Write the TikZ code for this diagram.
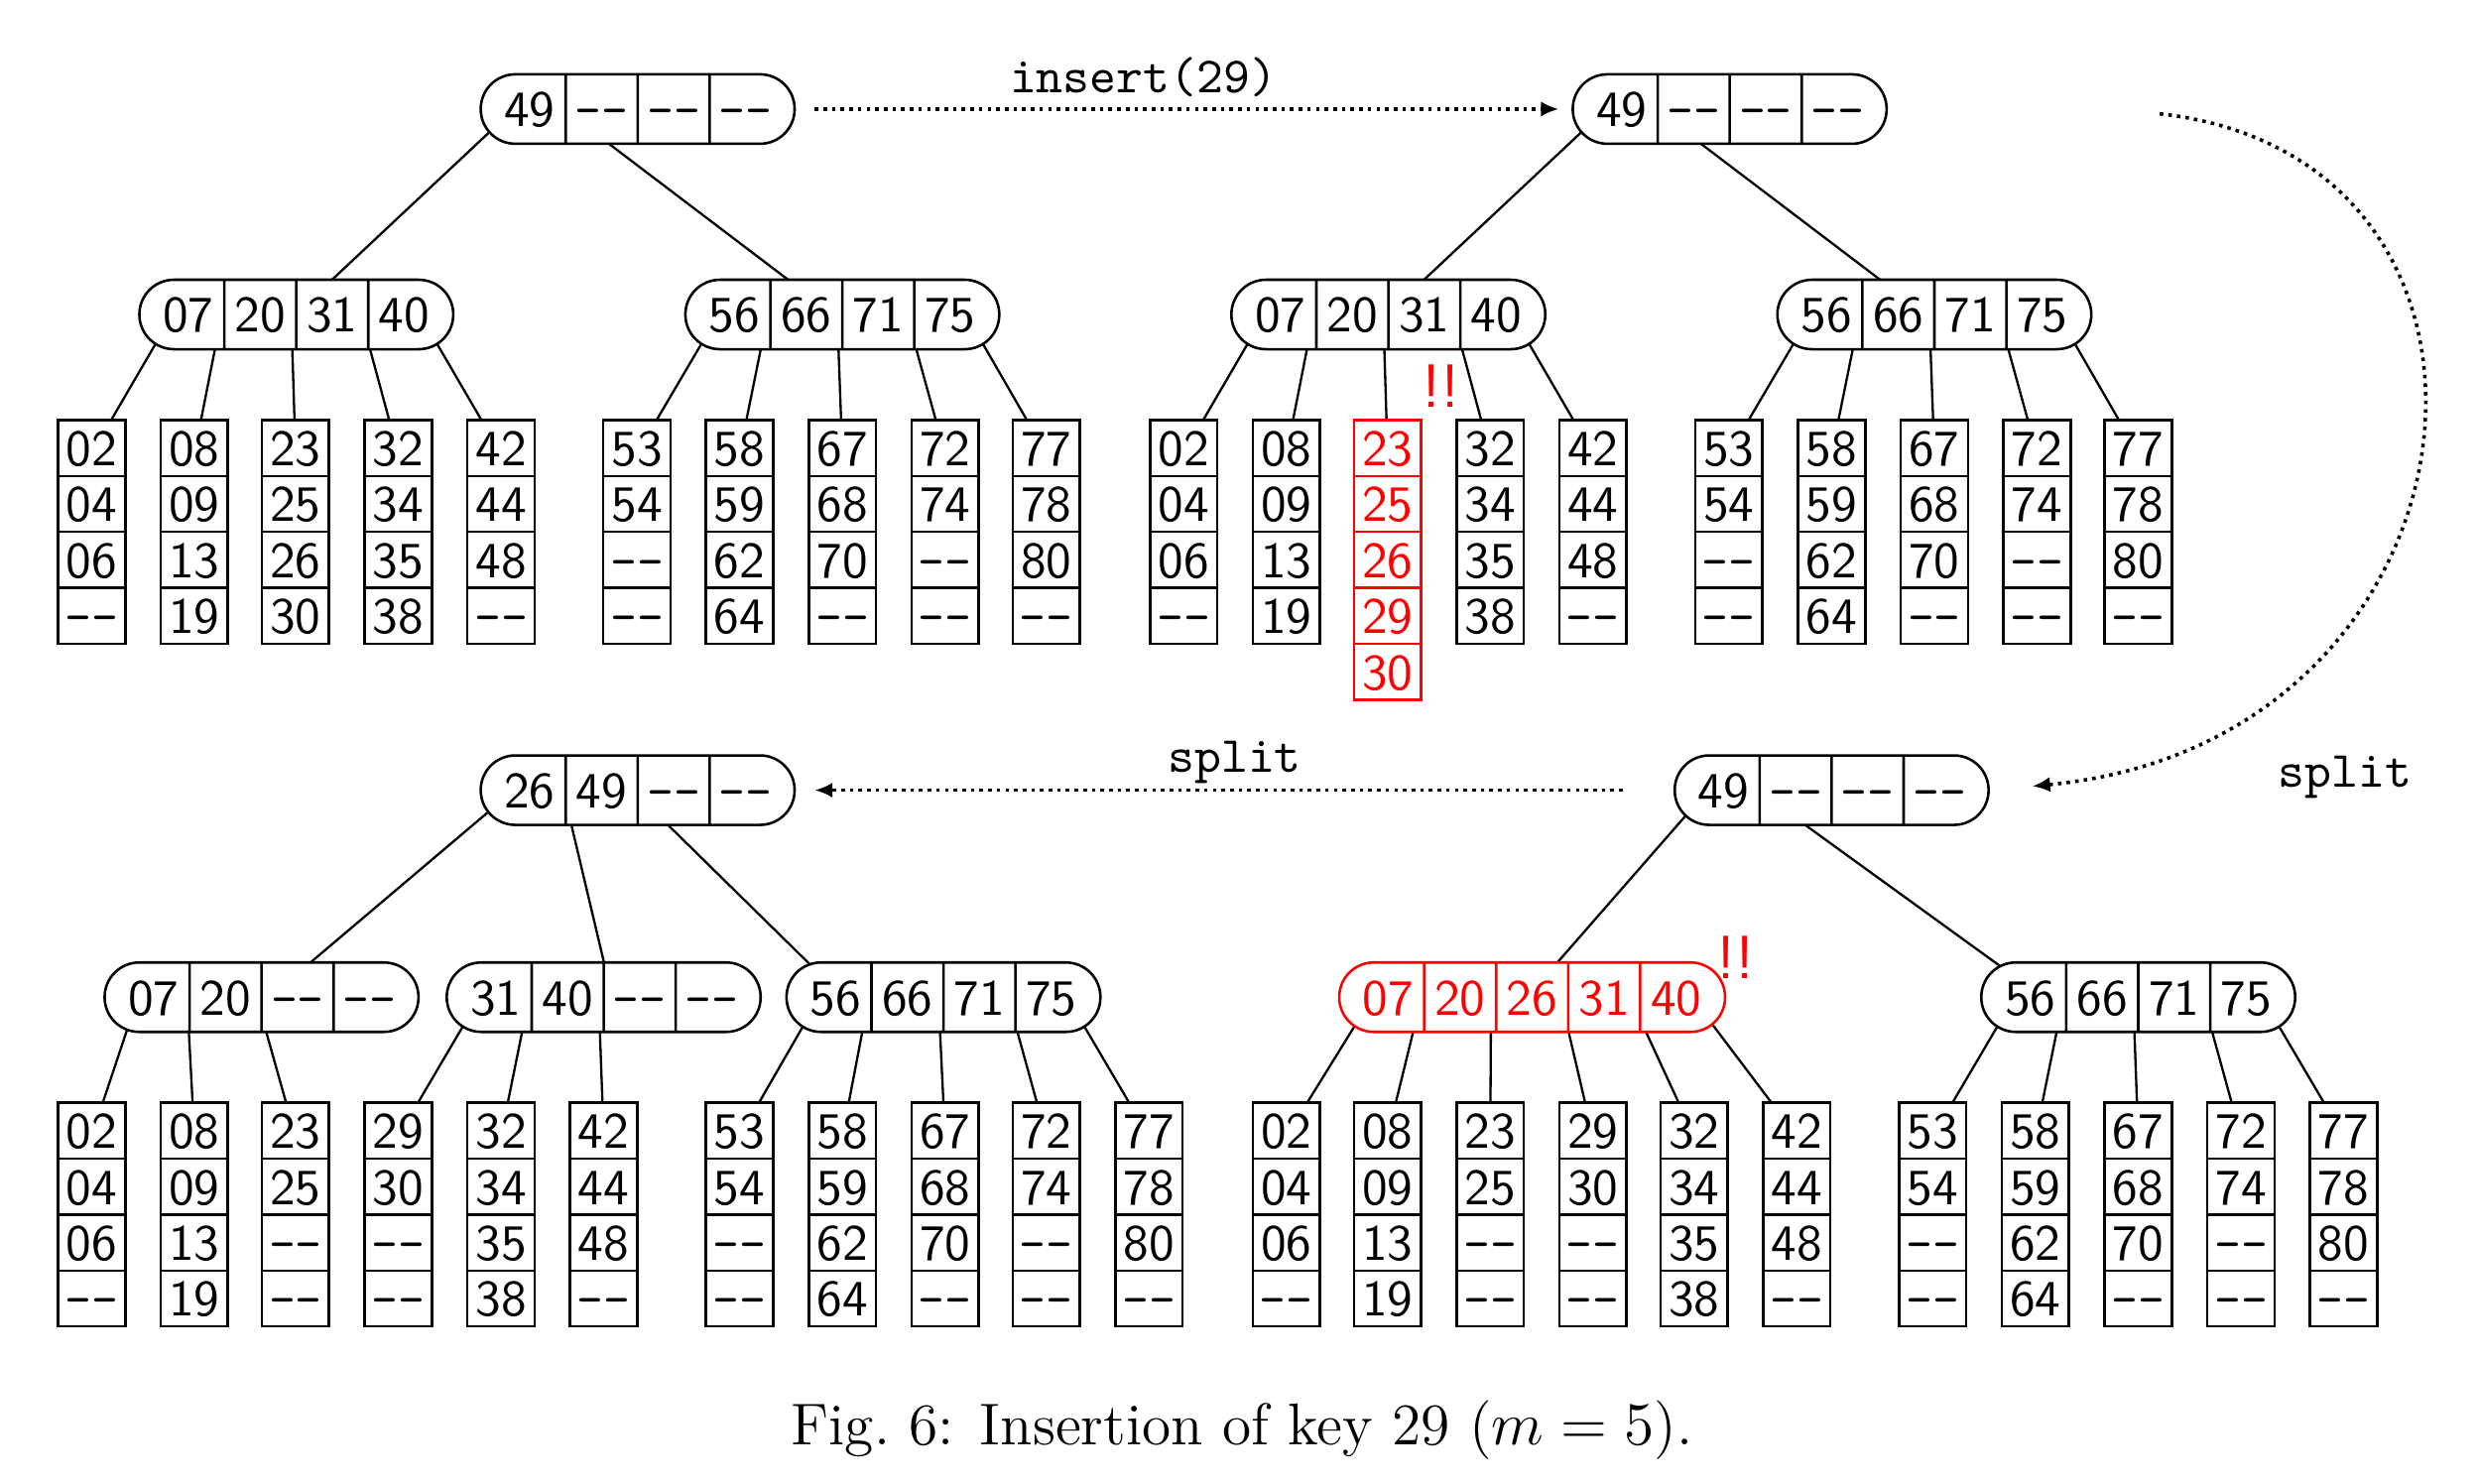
\documentclass[tikz,border=0pt]{standalone}
\usepackage{tikz}
\usetikzlibrary{arrows.meta,positioning,calc,shapes.multipart}
\pgfdeclarelayer{bg}
\pgfsetlayers{bg,main}

% keys
\newcommand{\bkey}[1]{\makebox[10pt]{\rule{0pt}{7pt}\smash{#1}}}
\newcommand{\nokey}{\texttt{-{}-}}
\newcommand{\kfirst}[1]{\hspace*{2.8pt}\bkey{#1}}
\newcommand{\klast}[1]{\bkey{#1}\hspace*{2.8pt}}
% inner nodes
\newcommand{\fourkeys}[4]{\kfirst{#1}\nodepart{two}\bkey{#2}\nodepart{three}\bkey{#3}\nodepart{four}\klast{#4}}
\newcommand{\fivekeys}[5]{\kfirst{#1}\nodepart{two}\bkey{#2}\nodepart{three}\bkey{#3}\nodepart{four}\bkey{#4}\nodepart{five}\klast{#5}}
% leaves
\newcommand{\fourleaf}[4]{\bkey{#1}\nodepart{two}\bkey{#2}\nodepart{three}\bkey{#3}\nodepart{four}\bkey{#4}}
\newcommand{\fiveleaf}[5]{\bkey{#1}\nodepart{two}\bkey{#2}\nodepart{three}\bkey{#3}\nodepart{four}\bkey{#4}\nodepart{five}\bkey{#5}}
% pointers of an inner node
\newcommand{\ptrs}[2]{%
  \coordinate (#1p0) at ($(#1.west)+(6.8pt,0)$);
  \pgfmathtruncatemacro{\lastdiv}{#2-1}
  \foreach \i in {1,...,\lastdiv}{
    \pgfmathsetmacro{\doff}{16.46+13.66*(\i-1)}
    \coordinate (#1p\i) at ($(#1.west)+(\doff pt,0)$);
  }
  \coordinate (#1p#2) at ($(#1.east)-(6.8pt,0)$);
}
% pointer -> child
\newcommand{\plink}[3][.25]{%
  \coordinate (hit) at ($(#3.north)!#1!(#2 |- #3.north)$);
  \draw[edge] (#2) -- ($(#2)!1.2!(hit)$);}

\begin{document}
\begin{tikzpicture}[x=0.01092cm, y=-0.01092cm,
  inode/.style={rectangle split, rectangle split horizontal, rectangle split parts=#1,
    draw, line width=.5pt, rounded corners=6.8pt, fill=white,
    inner xsep=1.83pt, inner ysep=3.33pt, font=\sffamily},
  inode/.default=4,
  leaf/.style={rectangle split, rectangle split parts=#1, draw, line width=.5pt,
    fill=white, inner xsep=1.6pt, inner ysep=1.75pt, anchor=north, font=\sffamily},
  leaf/.default=4,
  full/.style={draw=red, text=red},
  alert/.style={text=red, font=\sffamily\large, inner sep=0pt},
  edge/.style={line width=.45pt},
  move/.style={densely dotted, line width=.7pt, -{Latex[length=3.5pt,width=3pt]}},
  lbl/.style={font=\ttfamily}]

  \useasboundingbox (0,0) rectangle (1568,939);

  % before insertion
  \node[inode] (a) at (403.5,69) {\fourkeys{49}{\nokey}{\nokey}{\nokey}};
  \node[inode] (a1) at (187.5,199) {\fourkeys{07}{20}{31}{40}};
  \node[inode] (a2) at (533,199) {\fourkeys{56}{66}{71}{75}};
  \node[leaf] (a11) at (58,265) {\fourleaf{02}{04}{06}{\nokey}};
  \node[leaf] (a12) at (123,265) {\fourleaf{08}{09}{13}{19}};
  \node[leaf] (a13) at (187,265) {\fourleaf{23}{25}{26}{30}};
  \node[leaf] (a14) at (252,265) {\fourleaf{32}{34}{35}{38}};
  \node[leaf] (a15) at (317,265) {\fourleaf{42}{44}{48}{\nokey}};
  \node[leaf] (a21) at (403,265) {\fourleaf{53}{54}{\nokey}{\nokey}};
  \node[leaf] (a22) at (468,265) {\fourleaf{58}{59}{62}{64}};
  \node[leaf] (a23) at (533,265) {\fourleaf{67}{68}{70}{\nokey}};
  \node[leaf] (a24) at (598,265) {\fourleaf{72}{74}{\nokey}{\nokey}};
  \node[leaf] (a25) at (662,265) {\fourleaf{77}{78}{80}{\nokey}};

  % leaf overflow
  \node[inode] (b) at (1094.5,69) {\fourkeys{49}{\nokey}{\nokey}{\nokey}};
  \node[inode] (b1) at (878.5,199) {\fourkeys{07}{20}{31}{40}};
  \node[inode] (b2) at (1224,199) {\fourkeys{56}{66}{71}{75}};
  \node[leaf] (b11) at (749,265) {\fourleaf{02}{04}{06}{\nokey}};
  \node[leaf] (b12) at (814,265) {\fourleaf{08}{09}{13}{19}};
  \node[leaf=5, full] (b13) at (878,265) {\fiveleaf{23}{25}{26}{29}{30}};
  \node[leaf] (b14) at (943,265) {\fourleaf{32}{34}{35}{38}};
  \node[leaf] (b15) at (1008,265) {\fourleaf{42}{44}{48}{\nokey}};
  \node[leaf] (b21) at (1094,265) {\fourleaf{53}{54}{\nokey}{\nokey}};
  \node[leaf] (b22) at (1159,265) {\fourleaf{58}{59}{62}{64}};
  \node[leaf] (b23) at (1224,265) {\fourleaf{67}{68}{70}{\nokey}};
  \node[leaf] (b24) at (1289,265) {\fourleaf{72}{74}{\nokey}{\nokey}};
  \node[leaf] (b25) at (1353,265) {\fourleaf{77}{78}{80}{\nokey}};
  \node[alert] (bw) at (912,244) {!!};

  % inner overflow
  \node[inode] (c) at (1159,500) {\fourkeys{49}{\nokey}{\nokey}{\nokey}};
  \node[inode=5, full] (c1) at (969.5,631) {\fivekeys{07}{20}{26}{31}{40}};
  \node[inode] (c2) at (1353,631) {\fourkeys{56}{66}{71}{75}};
  \node[leaf] (c11) at (814,697) {\fourleaf{02}{04}{06}{\nokey}};
  \node[leaf] (c12) at (878,697) {\fourleaf{08}{09}{13}{19}};
  \node[leaf] (c13) at (943,697) {\fourleaf{23}{25}{\nokey}{\nokey}};
  \node[leaf] (c14) at (1008,697) {\fourleaf{29}{30}{\nokey}{\nokey}};
  \node[leaf] (c15) at (1072,697) {\fourleaf{32}{34}{35}{38}};
  \node[leaf] (c16) at (1137,697) {\fourleaf{42}{44}{48}{\nokey}};
  \node[leaf] (c21) at (1223,697) {\fourleaf{53}{54}{\nokey}{\nokey}};
  \node[leaf] (c22) at (1288,697) {\fourleaf{58}{59}{62}{64}};
  \node[leaf] (c23) at (1353,697) {\fourleaf{67}{68}{70}{\nokey}};
  \node[leaf] (c24) at (1418,697) {\fourleaf{72}{74}{\nokey}{\nokey}};
  \node[leaf] (c25) at (1483,697) {\fourleaf{77}{78}{80}{\nokey}};
  \node[alert] (cw) at (1098,606) {!!};

  % after split
  \node[inode] (d) at (403.5,500) {\fourkeys{26}{49}{\nokey}{\nokey}};
  \node[inode] (d1) at (165.5,631) {\fourkeys{07}{20}{\nokey}{\nokey}};
  \node[inode] (d2) at (382,631) {\fourkeys{31}{40}{\nokey}{\nokey}};
  \node[inode] (d3) at (597,631) {\fourkeys{56}{66}{71}{75}};
  \node[leaf] (d11) at (58,697) {\fourleaf{02}{04}{06}{\nokey}};
  \node[leaf] (d12) at (123,697) {\fourleaf{08}{09}{13}{19}};
  \node[leaf] (d13) at (187,697) {\fourleaf{23}{25}{\nokey}{\nokey}};
  \node[leaf] (d21) at (252,697) {\fourleaf{29}{30}{\nokey}{\nokey}};
  \node[leaf] (d22) at (317,697) {\fourleaf{32}{34}{35}{38}};
  \node[leaf] (d23) at (382,697) {\fourleaf{42}{44}{48}{\nokey}};
  \node[leaf] (d31) at (468,697) {\fourleaf{53}{54}{\nokey}{\nokey}};
  \node[leaf] (d32) at (533,697) {\fourleaf{58}{59}{62}{64}};
  \node[leaf] (d33) at (598,697) {\fourleaf{67}{68}{70}{\nokey}};
  \node[leaf] (d34) at (662,697) {\fourleaf{72}{74}{\nokey}{\nokey}};
  \node[leaf] (d35) at (727,697) {\fourleaf{77}{78}{80}{\nokey}};

  \ptrs{a}{4} \ptrs{a1}{4} \ptrs{a2}{4}
  \ptrs{b}{4} \ptrs{b1}{4} \ptrs{b2}{4}
  \ptrs{c}{4} \ptrs{c1}{5} \ptrs{c2}{4}
  \ptrs{d}{4} \ptrs{d1}{4} \ptrs{d2}{4} \ptrs{d3}{4}

  \begin{pgfonlayer}{bg}
    \plink[.17]{ap0}{a1} \plink[.2]{ap1}{a2}
    \plink[.17]{bp0}{b1} \plink[.2]{bp1}{b2}
    \plink[.15]{cp0}{c1} \plink[.38]{cp1}{c2}
    \plink[.2]{dp0}{d1} \plink[0]{dp1}{d2} \plink[.44]{dp2}{d3}
    \foreach \i [count=\j] in {0,...,4} {
      \plink{a1p\i}{a1\j} \plink{a2p\i}{a2\j}
      \plink{b1p\i}{b1\j} \plink{b2p\i}{b2\j}
      \plink{c2p\i}{c2\j} \plink{d3p\i}{d3\j}
    }
    \foreach \i [count=\j] in {0,...,5} {\plink{c1p\i}{c1\j}}
    \foreach \i [count=\j] in {0,...,2} {\plink{d1p\i}{d1\j} \plink{d2p\i}{d2\j}}
  \end{pgfonlayer}

  % steps
  \coordinate (bs) at ($(b.east)+(172,3)$);
  \draw[move, shorten <=3.7pt, shorten >=2.5pt] (a.east) -- node[lbl, above, inner sep=2pt, pos=.448] {insert(29)} (b.west);
  \draw[move, shorten >=8.4pt] (bs) .. controls (1620,100) and (1580,470) .. (c.east);
  \node[lbl] (cs) at (1484,492) {split};
  \draw[move, shorten <=10pt, shorten >=3.7pt] (c.west) -- node[lbl, above, inner sep=1pt] {split} (d.east);

  \node[font=\fontsize{11.6}{14}\selectfont] (caption) at (786,905) {Fig.~6: Insertion of key 29 ($m=5$).};
\end{tikzpicture}
\end{document}
